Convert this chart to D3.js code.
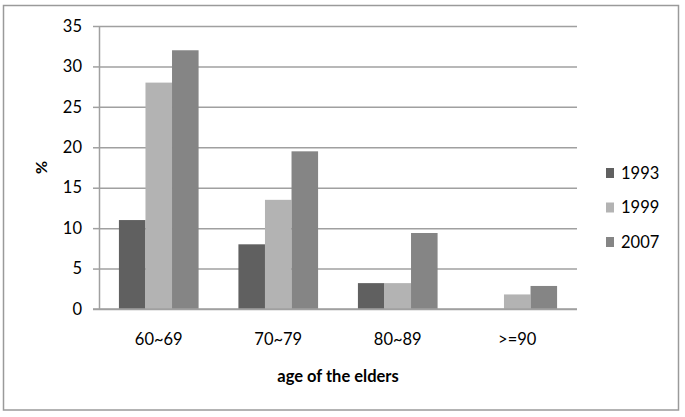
<!DOCTYPE html>
<html>
<head>
<meta charset="utf-8">
<script src="https://cdn.jsdelivr.net/npm/d3@7"></script>
<style>
	body { margin: 0; background: #fff; }
	svg text { font-family: Lato, "Open Sans", sans-serif; fill: #000; }
</style>
</head>
<body>
<div id="chart"></div>
<script>
'use strict'
var categories = ["60~69", "70~79", "80~89", ">=90"];
var years = ["1993", "1999", "2007"];
var values1993 = [11, 8, 3.2, 0];
var values1999 = [28, 13.5, 3.2, 1.8];
var values2007 = [32, 19.5, 9.4, 2.85];
var yTicks = [0, 5, 10, 15, 20, 25, 30, 35];
var colors = ["#606060", "#b3b3b3", "#858585"];

var W = 685, H = 417;
var plotLeft = 99, plotRight = 577, plotTop = 26, plotBottom = 309;

var svg = d3.select("#chart").append("svg")
	.attr("width", W).attr("height", H);

// outer frame
svg.append("rect")
	.attr("x", 3.5).attr("y", 5.5)
	.attr("width", 675).attr("height", 404.5)
	.style("fill", "#fff")
	.style("stroke", "#9a9a9a")
	.style("stroke-width", 1.5);

var y = d3.scaleLinear().domain([0, 35]).range([plotBottom, plotTop]);
var x0 = d3.scaleBand().domain(categories).range([plotLeft, plotRight]).padding(0);
var x1 = d3.scaleBand().domain(years).range([0, x0.bandwidth()])
	.paddingInner(0).paddingOuter(0.75);

// gridlines
var grid = svg.append("g")
	.attr("transform", "translate(" + plotLeft + ",0)")
	.call(d3.axisLeft(y).tickValues(yTicks).tickSize(-(plotRight - plotLeft)).tickFormat(""));
grid.select(".domain").remove();
grid.selectAll("line").style("stroke", "#a0a0a0").style("stroke-width", 1.5);

// y axis with ticks and labels
var yAxis = svg.append("g")
	.attr("transform", "translate(" + plotLeft + ",0)")
	.call(d3.axisLeft(y).tickValues(yTicks).tickSize(6).tickSizeOuter(0).tickPadding(11));
yAxis.select(".domain").style("stroke", "#a0a0a0").style("stroke-width", 1.5);
yAxis.selectAll("line").style("stroke", "#a0a0a0").style("stroke-width", 1.5);
yAxis.selectAll("text")
	.style("font-size", "16.5px")
	.style("font-family", "Lato, 'Open Sans', sans-serif")
	.attr("fill", "#000");

// bars
var rows = categories.map(function(c, i) {
	return {cat: c, vals: [values1993[i], values1999[i], values2007[i]]};
});
var groups = svg.append("g").selectAll("g.grp")
	.data(rows)
	.enter().append("g")
	.attr("class", "grp")
	.attr("transform", function(d) { return "translate(" + x0(d.cat) + ",0)"; });
groups.selectAll("rect")
	.data(function(d) { return d.vals.map(function(v, j) { return {year: years[j], v: v, j: j}; }); })
	.enter().append("rect")
	.attr("x", function(d) { return x1(d.year); })
	.attr("y", function(d) { return y(d.v); })
	.attr("width", x1.bandwidth())
	.attr("height", function(d) { return y(0) - y(d.v); })
	.style("fill", function(d) { return colors[d.j]; });

// redraw baseline over bars
svg.append("line")
	.attr("x1", plotLeft - 6).attr("x2", plotRight)
	.attr("y1", y(0)).attr("y2", y(0))
	.style("stroke", "#a0a0a0").style("stroke-width", 1.5);

// category labels
var xAxis = svg.append("g")
	.attr("transform", "translate(0," + plotBottom + ")")
	.call(d3.axisBottom(x0).tickSize(0).tickPadding(24));
xAxis.select(".domain").remove();
xAxis.selectAll("text")
	.style("font-size", "16.5px")
	.style("font-family", "Lato, 'Open Sans', sans-serif")
	.attr("fill", "#000");

// axis titles
svg.append("text")
	.attr("x", (plotLeft + plotRight) / 2).attr("y", 382)
	.attr("text-anchor", "middle")
	.style("font-size", "16.5px").style("font-weight", "bold")
	.text("age of the elders");
svg.append("text")
	.attr("transform", "translate(47," + ((plotTop + plotBottom) / 2) + ") rotate(-90)")
	.attr("text-anchor", "middle")
	.style("font-size", "16px").style("font-weight", "bold")
	.text("%");

// legend
var legend = svg.append("g").selectAll("g.leg")
	.data(years)
	.enter().append("g")
	.attr("class", "leg")
	.attr("transform", function(d, i) { return "translate(606," + (173 + i * 34.5) + ")"; });
legend.append("rect")
	.attr("x", 0).attr("y", -5)
	.attr("width", 8).attr("height", 10)
	.style("fill", function(d, i) { return colors[i]; });
legend.append("text")
	.attr("x", 15).attr("y", 0)
	.attr("dy", "0.35em")
	.style("font-size", "16.5px")
	.text(function(d) { return d; });
</script>
</body>
</html>
